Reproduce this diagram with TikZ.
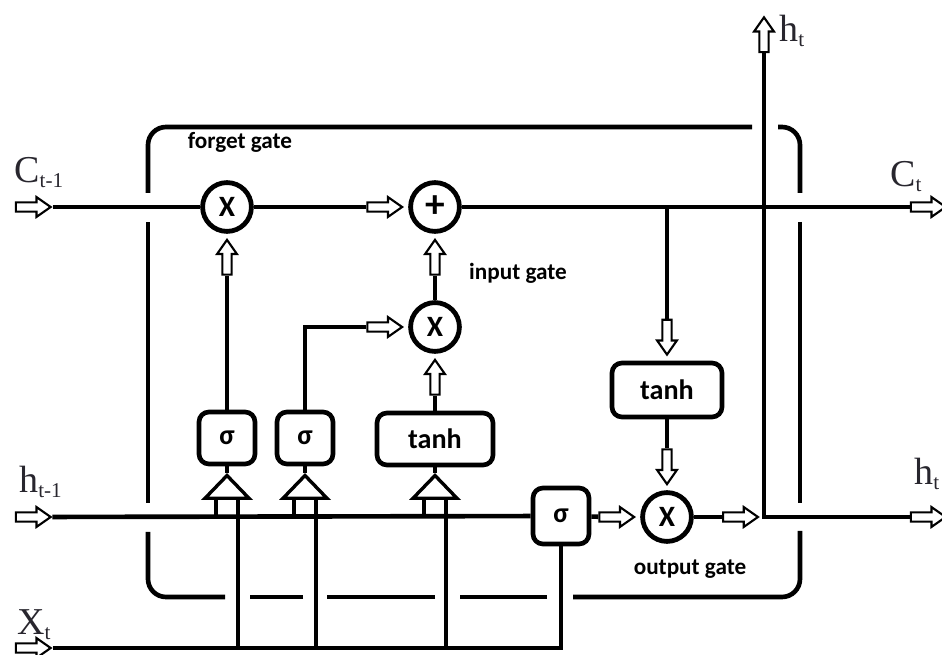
\documentclass[tikz,border=0pt]{standalone}
\usepackage{fontspec}
\setmainfont{Liberation Serif}
\newfontfamily\gatefont{Carlito}
\usepackage{tikz}
\usetikzlibrary{shapes.geometric,shapes.arrows,positioning,calc}
\definecolor{lblgray}{RGB}{40,38,46}
\newcommand\lsub[1]{\raisebox{-3.5pt}{\fontsize{15}{15}\selectfont #1}}

\begin{document}
\begin{tikzpicture}[
    x=0.025cm, y=-0.025cm,
    line width=3.3pt,
    every node/.style={font=\gatefont},
    op/.style={circle, draw, line width=3.4pt, fill=white, minimum size=1.22cm, inner sep=0pt, font=\gatefont\bfseries\fontsize{21}{21}\selectfont},
    gate/.style={rectangle, draw, rounded corners=0.25cm, fill=white, minimum width=1.4cm, minimum height=1.3cm, inner sep=0pt, font=\gatefont\bfseries\fontsize{20}{20}\selectfont},
    merge/.style={isosceles triangle, isosceles triangle apex angle=88, shape border rotate=90, draw, line width=2.4pt, fill=white, inner sep=0pt, minimum width=0.57cm, minimum height=0.57cm},
    harrow/.style={single arrow, draw, fill=white, line width=1.5pt, inner sep=2.5pt, single arrow head extend=3.8pt, single arrow tip angle=70, minimum height=0.87cm},
    frame/.style={line width=3.3pt, rounded corners=0.45cm},
    lbl/.style={font=\rmfamily\fontsize{27}{27}\selectfont, text=lblgray, inner sep=0pt, anchor=base west},
    note/.style={font=\gatefont\bfseries\fontsize{16.5}{16.5}\selectfont, inner sep=1pt}
]
\useasboundingbox (0,0) rectangle (942,655);

% Cell frame, broken where lines cross it
\draw[frame] (148,193) -- (148,127) -- (752,127);
\draw[frame] (778,127) -- (800,127) -- (800,193);
\draw[frame] (800,222) -- (800,503);
\draw[frame] (800,531) -- (800,597) -- (573,597);
\draw[frame] (547,597) -- (460,597);
\draw[frame] (435,597) -- (327,597);
\draw[frame] (303,597) -- (250,597);
\draw[frame] (225,597) -- (148,597) -- (148,532);
\draw[frame] (148,503) -- (148,222);

% Cell state row
\node[harrow] (cin) at (30,207) {};
\node[op] (fx) at (227,207) {X};
\node[op, font=\gatefont\bfseries\fontsize{28}{28}\selectfont] (plus) at (435,207) {+};
\node[harrow, left=3pt of plus] (ca) {};
\node[harrow] (cout) at (925,207) {};
\coordinate (cj) at (667,207);

% Gates
\node[gate] (fs) at (227,438) {σ};
\node[gate] (is) at (305,438) {σ};
\node[gate, minimum width=2.9cm] (it) at (435,439) {tanh};
\node[op] (ix) at (435,327) {X};
\node[gate, minimum width=2.75cm, minimum height=1.35cm] (ot) at (667,390) {tanh};
\node[gate, minimum height=1.4cm] (os) at (561,516) {σ};
\node[op] (ox) at (667,517) {X};

% Hollow arrows into the operators
\node[harrow, shape border rotate=90, below=3pt of fx] (fa) {};
\node[harrow, left=3pt of ix] (ia) {};
\node[harrow, shape border rotate=90, below=3pt of plus] (pa) {};
\node[harrow, shape border rotate=90, below=3pt of ix] (ta) {};
\node[harrow, shape border rotate=270, above=3pt of ot] (oa) {};
\node[harrow, shape border rotate=270, above=3pt of ox] (ob) {};
\node[harrow, left=3pt of ox] (oc) {};

% Merge triangles under the gates
\node[merge, anchor=lower side] (ft) at (227,500) {};
\node[merge, anchor=lower side] (st) at (305,500) {};
\node[merge, anchor=lower side] (tt) at (435,500) {};

% Inputs and outputs
\node[harrow] (hin) at (30,517) {};
\node[harrow] (xin) at (30,648) {};
\node[harrow] (hout) at (925,517) {};
\node[harrow, shape border rotate=90] (htop) at (764,38) {};
\coordinate (hj) at (764,517);
\node[harrow, left=3pt of hj] (od) {};

% Junctions on h and x lines
\coordinate (fh) at (216,517);
\coordinate (fxj) at (238,648);
\coordinate (sh) at (294,517);
\coordinate (sxj) at (316,648);
\coordinate (th) at (424,517);
\coordinate (txj) at (446,648);

% Labels
\node[lbl] (lc0) at (12,183) {C\lsub{t-1}};
\node[lbl] (lc1) at (888,187) {C\lsub{t}};
\node[lbl] (lh0) at (17,493) {h\lsub{t-1}};
\node[lbl] (lh1) at (912,485) {h\lsub{t}};
\node[lbl] (lht) at (777,42) {h\lsub{t}};
\node[lbl] (lx) at (15,635) {X\lsub{t}};
\node[note] (fgate) at (240,142) {forget gate};
\node[note] (igate) at (518,273) {input gate};
\node[note] (ogate) at (690,569) {output gate};

% Connectors
\draw (cin) -- (fx);
\draw (fx) -- (ca);
\draw (plus) -- (cout);
\draw (cj) -- (oa);
\draw (fs) -- (fa);
\draw (is.north) |- (ia);
\draw (ix) -- (pa);
\draw (it) -- (ta);
\draw (ot) -- (ob);
\draw (os) -- (oc);
\draw (ox) -- (od);
\draw (htop) -- (hj) -- (hout);
\draw (hin) -- (os);
\draw (xin) -| (os);
\draw (ft.apex) -- (fs);
\draw (st.apex) -- (is);
\draw (tt.apex) -- (it);
\draw (fh) -- (fh |- ft.lower side);
\draw (fxj) -- (fxj |- ft.lower side);
\draw (sh) -- (sh |- st.lower side);
\draw (sxj) -- (sxj |- st.lower side);
\draw (th) -- (th |- tt.lower side);
\draw (txj) -- (txj |- tt.lower side);

\end{tikzpicture}
\end{document}
